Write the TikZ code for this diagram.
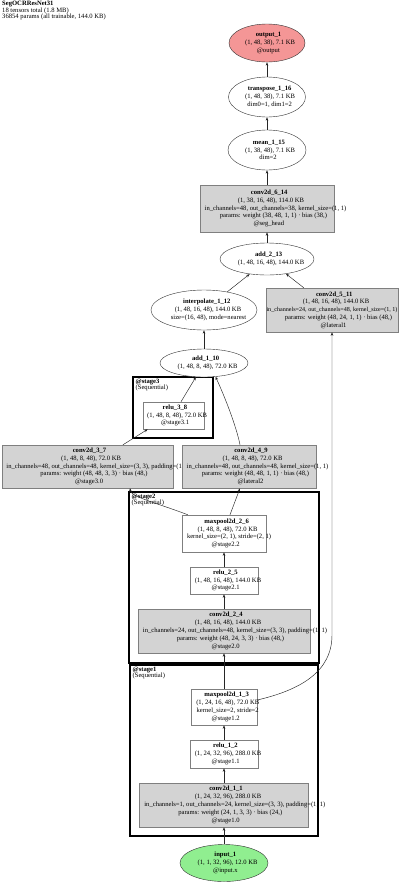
\documentclass[tikz,border=0pt]{standalone}
\usepackage{fontspec}
\setmainfont{Liberation Serif}
\usetikzlibrary{arrows.meta,shapes.geometric,calc}
\definecolor{gfill}{HTML}{D3D3D3}
\definecolor{gline}{HTML}{7F7F7F}
\definecolor{outfill}{HTML}{F49696}
\definecolor{infill}{HTML}{90EE90}
\newsavebox\glbox
\newcommand\gln[1]{\sbox\glbox{#1}\makebox[0.88\wd\glbox][l]{\usebox\glbox}}
\begin{document}
\begin{tikzpicture}[x=1pt,y=-1pt,
  every node/.style={font=\fontsize{6.6}{7.8}\selectfont, inner sep=0pt, align=center},
  ell/.style={ellipse, draw=black!80, line width=0.4pt, fill=white},
  gbox/.style={rectangle, draw=gline, line width=0.5pt, fill=gfill},
  wbox/.style={rectangle, draw=gline, line width=0.5pt, fill=white},
  cluster/.style={draw=black, line width=2.4pt},
  edge/.style={draw=black!85, line width=0.45pt, -{Stealth[length=3.5pt,width=2.6pt]}},
  lbl/.style={anchor=north west, align=left, font=\fontsize{6.6}{6.6}\selectfont}
]
\fill[white] (0,0) rectangle (400,884);
\useasboundingbox (0,0) rectangle (400,884);

% header
\node[anchor=north west, align=left, font=\fontsize{6.6}{6}\selectfont] (hdr) at (2,1)
  {\textbf{SegOCRResNet31}\\18 tensors total (1.8 MB)\\36854 params (all trainable, 144.0 KB)};

% clusters
\draw[cluster] (133,377) rectangle (213,438);
\draw[cluster] (129,492) rectangle (319,663);
\draw[cluster] (130,665) rectangle (318,836);
\node[lbl] (l3) at (135.5,378.5) {\textbf{@stage3}\\(Sequential)};
\node[lbl] (l2) at (131.5,493.5) {\textbf{@stage2}\\(Sequential)};
\node[lbl] (l1) at (132.5,666.5) {\textbf{@stage1}\\(Sequential)};

% nodes
\node[ell, fill=outfill, minimum width=76pt, minimum height=38pt] (out) at (267,43)
  {\gln{\textbf{output\_1}}\\\gln{(1, 48, 38), 7.1 KB}\\\gln{@output}};
\node[ell, minimum width=77pt, minimum height=40pt] (tr) at (267,97)
  {\gln{\textbf{transpose\_1\_16}}\\\gln{(1, 48, 38), 7.1 KB}\\\gln{dim0=1, dim1=2}};
\node[ell, minimum width=78pt, minimum height=40pt] (mean) at (267,150)
  {\gln{\textbf{mean\_1\_15}}\\\gln{(1, 38, 48), 7.1 KB}\\\gln{dim=2}};
\node[gbox, minimum width=134pt, minimum height=47pt] (c614) at (267,208.5)
  {\gln{\textbf{conv2d\_6\_14}}\\\gln{(1, 38, 16, 48), 114.0 KB}\\\gln{in\_channels=48, out\_channels=38, kernel\_size=(1, 1)}\\\gln{params: weight (38, 48, 1, 1) · bias (38,)}\\\gln{@seg\_head}};
\node[ell, minimum width=94pt, minimum height=32pt] (add213) at (267,259)
  {\gln{\textbf{add\_2\_13}}\\\gln{(1, 48, 16, 48), 144.0 KB}};
\node[ell, minimum width=106pt, minimum height=40pt] (interp) at (204,310)
  {\gln{\textbf{interpolate\_1\_12}}\\\gln{(1, 48, 16, 48), 144.0 KB}\\\gln{size=(16, 48), mode=nearest}};
\node[gbox, minimum width=132pt, minimum height=44pt] (c511) at (332,310)
  {\gln{\textbf{conv2d\_5\_11}}\\\gln{(1, 48, 16, 48), 144.0 KB}\\{\fontsize{6.1}{7.8}\selectfont in\_channels=24, out\_channels=48, kernel\_size=(1, 1)}\\\gln{params: weight (48, 24, 1, 1) · bias (48,)}\\\gln{@lateral1}};
\node[ell, minimum width=88pt, minimum height=28pt] (add110) at (204,363)
  {\gln{\textbf{add\_1\_10}}\\\gln{(1, 48, 8, 48), 72.0 KB}};
\node[wbox, minimum width=61pt, minimum height=27pt] (r38) at (173.5,415.5)
  {\gln{\textbf{relu\_3\_8}}\\\gln{(1, 48, 8, 48), 72.0 KB}\\\gln{@stage3.1}};
\node[gbox, minimum width=171pt, minimum height=43pt] (c37) at (87.5,466.5)
  {\gln{\textbf{conv2d\_3\_7}}\\\gln{(1, 48, 8, 48), 72.0 KB}\\\gln{in\_channels=48, out\_channels=48, kernel\_size=(3, 3), padding=(1, 1)}\\\gln{params: weight (48, 48, 3, 3) · bias (48,)}\\\gln{@stage3.0}};
\node[gbox, minimum width=134pt, minimum height=43pt] (c49) at (249,466.5)
  {\gln{\textbf{conv2d\_4\_9}}\\\gln{(1, 48, 8, 48), 72.0 KB}\\\gln{in\_channels=48, out\_channels=48, kernel\_size=(1, 1)}\\\gln{params: weight (48, 48, 1, 1) · bias (48,)}\\\gln{@lateral2}};
\node[wbox, minimum width=84pt, minimum height=37pt] (mp26) at (224,533.5)
  {\gln{\textbf{maxpool2d\_2\_6}}\\\gln{(1, 48, 8, 48), 72.0 KB}\\\gln{kernel\_size=(2, 1), stride=(2, 1)}\\\gln{@stage2.2}};
\node[wbox, minimum width=68pt, minimum height=27pt] (r25) at (224,580.5)
  {\gln{\textbf{relu\_2\_5}}\\\gln{(1, 48, 16, 48), 144.0 KB}\\\gln{@stage2.1}};
\node[gbox, minimum width=172pt, minimum height=44pt] (c24) at (224,631)
  {\gln{\textbf{conv2d\_2\_4}}\\\gln{(1, 48, 16, 48), 144.0 KB}\\\gln{in\_channels=24, out\_channels=48, kernel\_size=(3, 3), padding=(1, 1)}\\\gln{params: weight (48, 24, 3, 3) · bias (48,)}\\\gln{@stage2.0}};
\node[wbox, minimum width=66pt, minimum height=36pt] (mp13) at (224,707)
  {\gln{\textbf{maxpool2d\_1\_3}}\\\gln{(1, 24, 16, 48), 72.0 KB}\\\gln{kernel\_size=2, stride=2}\\\gln{@stage1.2}};
\node[wbox, minimum width=68pt, minimum height=28pt] (r12) at (224,754)
  {\gln{\textbf{relu\_1\_2}}\\\gln{(1, 24, 32, 96), 288.0 KB}\\\gln{@stage1.1}};
\node[gbox, minimum width=169pt, minimum height=44pt] (c11) at (224,805)
  {\gln{\textbf{conv2d\_1\_1}}\\\gln{(1, 24, 32, 96), 288.0 KB}\\\gln{in\_channels=1, out\_channels=24, kernel\_size=(3, 3), padding=(1, 1)}\\\gln{params: weight (24, 1, 3, 3) · bias (24,)}\\\gln{@stage1.0}};
\node[ell, fill=infill, minimum width=88pt, minimum height=37pt] (in) at (224,863)
  {\gln{\textbf{input\_1}}\\\gln{(1, 1, 32, 96), 12.0 KB}\\\gln{@input.x}};

% edges
\draw[edge] (in.north) -- (c11.south);
\draw[edge] (c11.north) -- (r12.south);
\draw[edge] (r12.north) -- (mp13.south);
\draw[edge] (mp13.north) -- (c24.south);
\draw[edge] (c24.north) -- (r25.south);
\draw[edge] (r25.north) -- (mp26.south);
\draw[edge] ($(mp26.north west)+(6,0)$) .. controls (160,504) and (131,497) .. ($(c37.south)+(42.5,0)$);
\draw[edge] ($(mp26.north)+(6,0)$) -- ($(c49.south)+(-9,0)$);
\draw[edge] ($(c37.north)+(35.5,0)$) -- ($(r38.south west)+(5,0)$);
\draw[edge] ($(r38.north)+(7.5,0)$) -- (add110.-120);
\draw[edge] ($(c49.north)+(-9,0)$) .. controls (236,425) and (224,395) .. (add110.-50);
\draw[edge] (add110.north) -- (interp.south);
\draw[edge] (interp.38) -- (add213.-139);
\draw[edge] ($(c511.north west)+(38,0)$) -- (add213.-38);
\draw[edge] (add213.north) -- (c614.south);
\draw[edge] (c614.north) -- (mean.south);
\draw[edge] (mean.north) -- (tr.south);
\draw[edge] (tr.north) -- (out.south);
\draw[edge] ($(mp13.east)+(0,-7)$) .. controls (300,690) and (332,672) .. (332,635) -- (c511.south);
\end{tikzpicture}
\end{document}
